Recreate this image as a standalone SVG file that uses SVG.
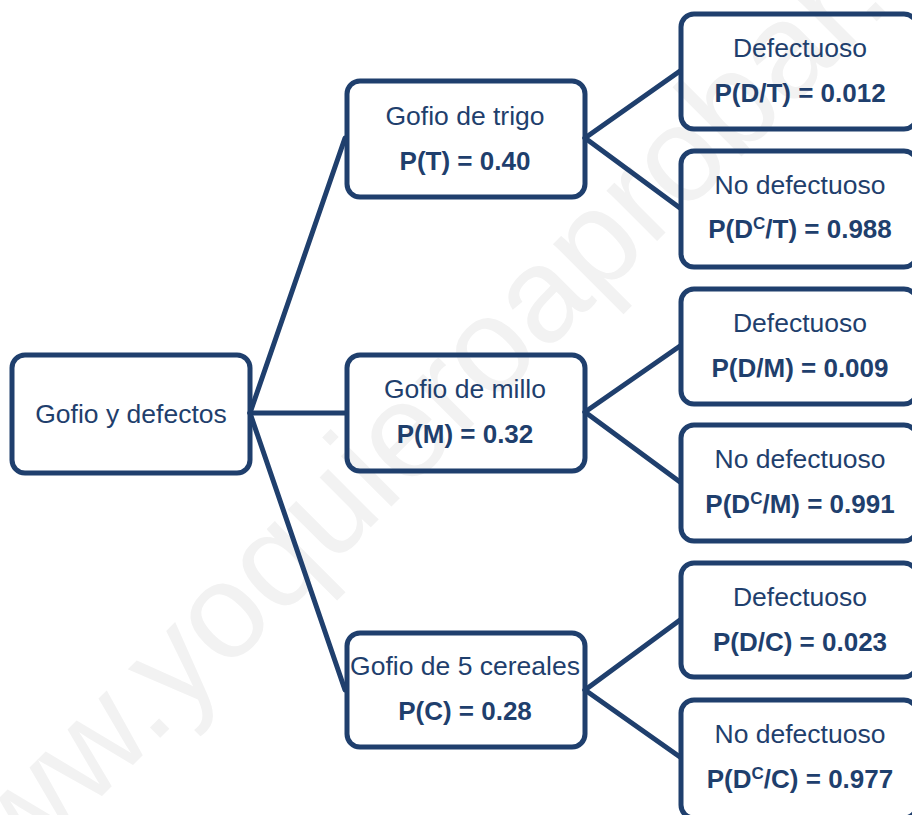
<svg xmlns="http://www.w3.org/2000/svg" width="912" height="815" viewBox="0 0 912 815">
<style>
.box{fill:none;stroke:#1f3f6d;stroke-width:5}
.lnk{stroke:#1f3f6d;stroke-width:5;fill:none;stroke-linecap:round}
.t{font-family:"Liberation Sans",Arial,sans-serif;font-size:26.5px;fill:#1f3f6d;text-anchor:middle}
.b{font-weight:bold;font-size:26px}
.wm{font-family:"Liberation Sans",Arial,sans-serif;font-size:135px;fill:#f2f2f2}
</style>
<rect x="0" y="0" width="912" height="815" fill="#ffffff"/>
<text class="wm" x="-50" y="948" transform="rotate(-45 -50 948)">www.yoquieroaprobar.es</text>
<g id="connectors">
<line class="lnk" x1="250" y1="413" x2="345" y2="138"/>
<line class="lnk" x1="250" y1="413" x2="345" y2="413"/>
<line class="lnk" x1="250" y1="413" x2="345" y2="690"/>
<line class="lnk" x1="585" y1="138" x2="680" y2="71"/>
<line class="lnk" x1="585" y1="138" x2="680" y2="208"/>
<line class="lnk" x1="585" y1="412" x2="680" y2="346"/>
<line class="lnk" x1="585" y1="412" x2="680" y2="482"/>
<line class="lnk" x1="585" y1="690" x2="680" y2="620"/>
<line class="lnk" x1="585" y1="690" x2="680" y2="757"/>
</g>
<g id="root">
<rect class="box" x="12" y="355" width="238" height="118" rx="13"/>
<text class="t" x="131" y="423">Gofio y defectos</text>
</g>
<g id="trigo">
<rect class="box" x="347" y="81" width="238" height="116" rx="13"/>
<text class="t" x="465" y="125">Gofio de trigo</text>
<text class="t b" x="465" y="170">P(T) = 0.40</text>
</g>
<g id="millo">
<rect class="box" x="347" y="355" width="238" height="116" rx="13"/>
<text class="t" x="465" y="398">Gofio de millo</text>
<text class="t b" x="465" y="443">P(M) = 0.32</text>
</g>
<g id="cereales">
<rect class="box" x="347" y="633" width="238" height="114" rx="13"/>
<text class="t" x="465" y="675">Gofio de 5 cereales</text>
<text class="t b" x="465" y="720">P(C) = 0.28</text>
</g>
<g id="leafDT">
<rect class="box" x="681" y="14" width="236" height="115" rx="13"/>
<text class="t" x="800" y="57">Defectuoso</text>
<text class="t b" x="800" y="102">P(D/T) = 0.012</text>
</g>
<g id="leafNDT">
<rect class="box" x="681" y="151" width="236" height="116" rx="13"/>
<text class="t" x="800" y="194">No defectuoso</text>
<text class="t b" x="800" y="238">P(D<tspan font-size="17" dy="-9">C</tspan><tspan dy="9">/T) = 0.988</tspan></text>
</g>
<g id="leafDM">
<rect class="box" x="681" y="289" width="236" height="115" rx="13"/>
<text class="t" x="800" y="332">Defectuoso</text>
<text class="t b" x="800" y="377">P(D/M) = 0.009</text>
</g>
<g id="leafNDM">
<rect class="box" x="681" y="425" width="236" height="116" rx="13"/>
<text class="t" x="800" y="468">No defectuoso</text>
<text class="t b" x="800" y="513">P(D<tspan font-size="17" dy="-9">C</tspan><tspan dy="9">/M) = 0.991</tspan></text>
</g>
<g id="leafDC">
<rect class="box" x="681" y="563" width="236" height="114" rx="13"/>
<text class="t" x="800" y="606">Defectuoso</text>
<text class="t b" x="800" y="651">P(D/C) = 0.023</text>
</g>
<g id="leafNDC">
<rect class="box" x="681" y="700" width="236" height="118" rx="13"/>
<text class="t" x="800" y="743">No defectuoso</text>
<text class="t b" x="800" y="788">P(D<tspan font-size="17" dy="-9">C</tspan><tspan dy="9">/C) = 0.977</tspan></text>
</g>
</svg>
